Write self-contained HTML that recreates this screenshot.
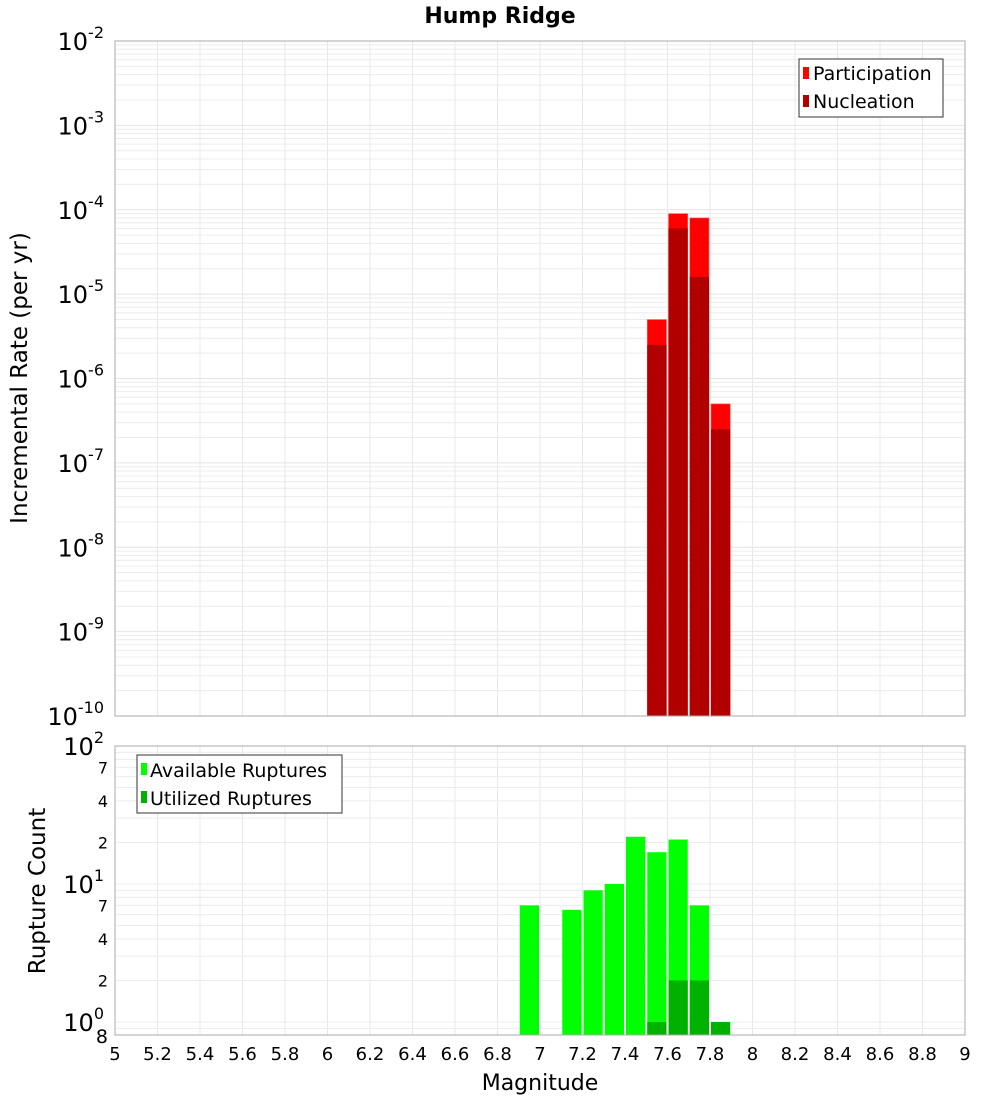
<!DOCTYPE html>
<html><head><meta charset="utf-8"><style>
body{margin:0;background:#fff;font-family:"Liberation Sans","DejaVu Sans",sans-serif;}
</style></head><body>
<svg id="c" width="1000" height="1100" xmlns="http://www.w3.org/2000/svg" font-family="DejaVu Sans, Liberation Sans, sans-serif">
<text x="500" y="23" text-anchor="middle" font-size="22" font-weight="bold">Hump Ridge</text>
<g id="topg"></g><g id="botg"></g><g id="xaxg"></g>
<text x="27" y="378" transform="rotate(-90 27 378)" text-anchor="middle" font-size="23">Incremental Rate (per yr)</text>
<text x="45" y="891" transform="rotate(-90 45 891)" text-anchor="middle" font-size="23">Rupture Count</text>
<text x="540" y="1090" text-anchor="middle" font-size="22">Magnitude</text>
</svg>
<script>
const binCenters=[7.55,7.65,7.75,7.85];
const participation=[5e-6,9e-5,8e-5,5e-7];
const nucleation=[2.5e-6,6e-5,1.6e-5,2.5e-7];
const countCenters=[6.95,7.15,7.25,7.35,7.45,7.55,7.65,7.75,7.85];
const available=[7,6.5,9,10,22,17,21,7,0];
const utilized=[0,0,0,0,0,1,2,2,1];
const xTicks=[5,5.2,5.4,5.6,5.8,6,6.2,6.4,6.6,6.8,7,7.2,7.4,7.6,7.8,8,8.2,8.4,8.6,8.8,9];
const NS="http://www.w3.org/2000/svg";
const PL=115,PR=965;
const X=m=>PL+(m-5)/4*(PR-PL);
const T0=41,T1=716;
const YT=v=>T1-(Math.log10(v)+10)/8*(T1-T0);
const B0=746,B1=1035,BD=138,B10=1022;
const YB=v=>B10-Math.log10(v)*BD;
function mk(p,tag,a,txt){const e=document.createElementNS(NS,tag);for(const k in a)e.setAttribute(k,a[k]);if(txt!=null)e.textContent=txt;p.appendChild(e);return e;}
const gTop=document.getElementById('topg'),gBot=document.getElementById('botg'),gX=document.getElementById('xaxg');
for(let d=-10;d<-2;d++)for(let k=1;k<10;k++){const y=YT(k*Math.pow(10,d));
const l=mk(gTop,'line',{x1:PL,x2:PR,y1:y,y2:y,stroke:k==1?'#e4e4e4':'#ececec','stroke-width':1});

}
xTicks.forEach(m=>{const l=mk(gTop,'line',{x1:X(m),x2:X(m),y1:T0,y2:T1,stroke:'#e8e8e8'});


const l2=mk(gBot,'line',{x1:X(m),x2:X(m),y1:B0,y2:B1,stroke:'#e8e8e8'});

});
for(let e=-10;e<=-2;e++){const y=YT(Math.pow(10,e));
const t=mk(gTop,'text',{x:104,y:y+9,'text-anchor':'end','font-size':24});


t.innerHTML='10<tspan dy="-12" font-size="16">'+e+'</tspan>';}
const bw=X(5.1)-X(5);
binCenters.forEach((c,i)=>{
const x=X(c)-bw/2+1,w=bw-2;
const r1=mk(gTop,'rect',{x:x,y:YT(participation[i]),width:w,height:T1-YT(participation[i]),fill:'#ff0000',stroke:'#ff6666','stroke-width':0.6});


const r2=mk(gTop,'rect',{x:x,y:YT(nucleation[i]),width:w,height:T1-YT(nucleation[i]),fill:'#b20000'});

});
const f1=mk(gTop,'rect',{x:PL,y:T0,width:PR-PL,height:T1-T0,fill:'none',stroke:'#aaa'});


const lg=mk(gTop,'g',{});


mk(lg,'rect',{x:799,y:59,width:144,height:58,fill:'#fff',stroke:'#333'});
mk(lg,'rect',{x:803,y:67,width:6,height:12,fill:'#ff0000'});
mk(lg,'text',{x:813,y:80,'font-size':19},'Participation');
mk(lg,'rect',{x:803,y:95,width:6,height:12,fill:'#b20000'});
mk(lg,'text',{x:813,y:108,'font-size':19},'Nucleation');
for(let d=-1;d<2;d++)for(let k=1;k<10;k++){const v=k*Math.pow(10,d);const y=YB(v);if(y>B1||y<B0)continue;
const l=mk(gBot,'line',{x1:PL,x2:PR,y1:y,y2:y,stroke:'#ececec'});

}
[2,1,0].forEach(e=>{const t=mk(gBot,'text',{x:104,y:YB(Math.pow(10,e))+9,'text-anchor':'end','font-size':24});


t.innerHTML='10<tspan dy="-12" font-size="16">'+e+'</tspan>';});
[[7,1],[4,1],[2,1],[7,0],[4,0],[2,0]].forEach(([k,e])=>{const t=mk(gBot,'text',{x:108,y:YB(k*Math.pow(10,e))+6,'text-anchor':'end','font-size':16},String(k));

});
const t8=mk(gBot,'text',{x:108,y:1043,'text-anchor':'end','font-size':19},'8');


countCenters.forEach((c,i)=>{const x=X(c)-bw/2+1,w=bw-2;
if(available[i]>0){const r=mk(gBot,'rect',{x:x,y:YB(available[i]),width:w,height:B1-YB(available[i]),fill:'#00ff00'});

}
if(utilized[i]>0){const r=mk(gBot,'rect',{x:x,y:YB(utilized[i]),width:w,height:B1-YB(utilized[i]),fill:'#00b200'});

}});
const f2=mk(gBot,'rect',{x:PL,y:B0,width:PR-PL,height:B1-B0,fill:'none',stroke:'#aaa'});


const lg2=mk(gBot,'g',{});


mk(lg2,'rect',{x:137,y:755,width:205,height:58,fill:'#fff',stroke:'#333'});
mk(lg2,'rect',{x:141,y:763,width:6,height:12,fill:'#00ff00'});
mk(lg2,'text',{x:150,y:777,'font-size':19},'Available Ruptures');
mk(lg2,'rect',{x:141,y:791,width:6,height:12,fill:'#00b200'});
mk(lg2,'text',{x:150,y:805,'font-size':19},'Utilized Ruptures');
xTicks.forEach(m=>{const t=mk(gX,'text',{x:X(m),y:1060,'text-anchor':'middle','font-size':18},String(m));

});
</script>
</body></html>
